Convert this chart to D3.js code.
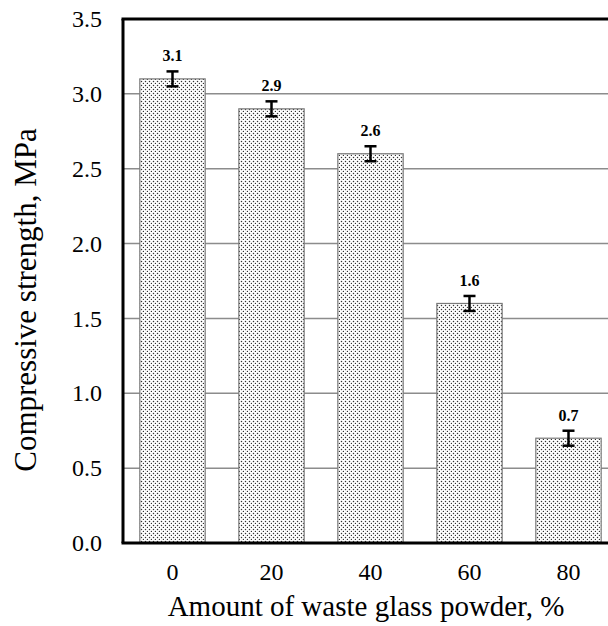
<!DOCTYPE html>
<html>
<head>
<meta charset="utf-8">
<script src="https://cdn.jsdelivr.net/npm/d3@7"></script>
<style>
  body { margin: 0; background: #fff; }
  svg { display: block; }
</style>
</head>
<body>
<div id="chart"></div>
<script>
// data
var categories = ["0", "20", "40", "60", "80"];
var strength = [3.1, 2.9, 2.6, 1.6, 0.7];
var errors = [0.05, 0.05, 0.05, 0.05, 0.05];
var yTicks = [0, 0.5, 1.0, 1.5, 2.0, 2.5, 3.0, 3.5];

var width = 608, height = 626;
var margin = { top: 19, right: -10, bottom: 83, left: 123 };
var serif = "'Liberation Serif', 'Times New Roman', serif";

var svg = d3.select("#chart").append("svg")
  .attr("width", width)
  .attr("height", height);

// dotted fill
var defs = svg.append("defs");
var pat = defs.append("pattern")
  .attr("id", "dots")
  .attr("patternUnits", "userSpaceOnUse")
  .attr("width", 4).attr("height", 4);
pat.append("rect").attr("width", 4).attr("height", 4).attr("fill", "#fff");
pat.append("circle").attr("cx", 1.5).attr("cy", 1.5).attr("r", 0.75).attr("fill", "#333");
pat.append("circle").attr("cx", 3.5).attr("cy", 3.5).attr("r", 0.75).attr("fill", "#333");

var x = d3.scaleBand()
  .domain(categories)
  .range([margin.left, width - margin.right])
  .paddingInner(0.34)
  .paddingOuter(0.17);

var y = d3.scaleLinear()
  .domain([0, 3.5])
  .range([height - margin.bottom, margin.top]);

// gridlines
svg.append("g")
  .selectAll("line")
  .data(yTicks.slice(1, -1))
  .enter().append("line")
  .attr("x1", margin.left).attr("x2", width - margin.right)
  .attr("y1", function(d) { return y(d); })
  .attr("y2", function(d) { return y(d); })
  .attr("stroke", "#8c8c8c")
  .attr("stroke-width", 1.5);

// bars
svg.append("g")
  .selectAll("rect")
  .data(strength)
  .enter().append("rect")
  .attr("x", function(d, i) { return x(categories[i]); })
  .attr("y", function(d) { return y(d); })
  .attr("width", x.bandwidth())
  .attr("height", function(d) { return y(0) - y(d); })
  .attr("fill", "url(#dots)")
  .attr("stroke", "#7a7a7a")
  .attr("stroke-width", 1.2);

// error bars
var err = svg.append("g").attr("stroke", "#000").attr("stroke-width", 2.5);
strength.forEach(function(v, i) {
  var cx = x(categories[i]) + x.bandwidth() / 2;
  var top = y(v + errors[i]), bot = y(v - errors[i]);
  err.append("line").attr("x1", cx).attr("x2", cx).attr("y1", top).attr("y2", bot);
  err.append("line").attr("x1", cx - 6).attr("x2", cx + 6).attr("y1", top).attr("y2", top);
  err.append("line").attr("x1", cx - 6).attr("x2", cx + 6).attr("y1", bot).attr("y2", bot);
});

// value labels
svg.append("g")
  .selectAll("text")
  .data(strength)
  .enter().append("text")
  .attr("x", function(d, i) { return x(categories[i]) + x.bandwidth() / 2; })
  .attr("y", function(d, i) { return y(d + errors[i]) - 10; })
  .attr("text-anchor", "middle")
  .attr("font-family", serif)
  .attr("font-weight", "bold")
  .attr("font-size", 16)
  .text(function(d) { return d.toFixed(1); });

// frame: left axis, top line, bottom axis
var frame = svg.append("g").attr("stroke", "#000").attr("stroke-width", 3);
frame.append("line")
  .attr("x1", margin.left).attr("x2", margin.left)
  .attr("y1", y(3.5)).attr("y2", y(0));
frame.append("line")
  .attr("x1", margin.left - 1.5).attr("x2", width)
  .attr("y1", y(3.5)).attr("y2", y(3.5));
frame.append("line")
  .attr("x1", margin.left - 1.5).attr("x2", width)
  .attr("y1", y(0)).attr("y2", y(0));

// y axis labels
var yAxis = d3.axisLeft(y)
  .tickValues(yTicks)
  .tickSize(0)
  .tickPadding(21)
  .tickFormat(d3.format(".1f"));
var gy = svg.append("g")
  .attr("transform", "translate(" + margin.left + ",0)")
  .call(yAxis);
gy.select(".domain").remove();
gy.selectAll("text")
  .attr("font-family", serif)
  .attr("font-size", 24)
  .attr("fill", "#000");

// x axis labels
var xAxis = d3.axisBottom(x).tickSize(0).tickPadding(20);
var gx = svg.append("g")
  .attr("transform", "translate(0," + y(0) + ")")
  .call(xAxis);
gx.select(".domain").remove();
gx.selectAll("text")
  .attr("font-family", serif)
  .attr("font-size", 24)
  .attr("fill", "#000");

// axis titles
svg.append("text")
  .attr("x", 366)
  .attr("y", 616)
  .attr("text-anchor", "middle")
  .attr("font-family", serif)
  .attr("font-size", 29)
  .text("Amount of waste glass powder, %");

svg.append("text")
  .attr("transform", "translate(36,300) rotate(-90)")
  .attr("text-anchor", "middle")
  .attr("font-family", serif)
  .attr("font-size", 31)
  .text("Compressive strength, MPa");
</script>
</body>
</html>
